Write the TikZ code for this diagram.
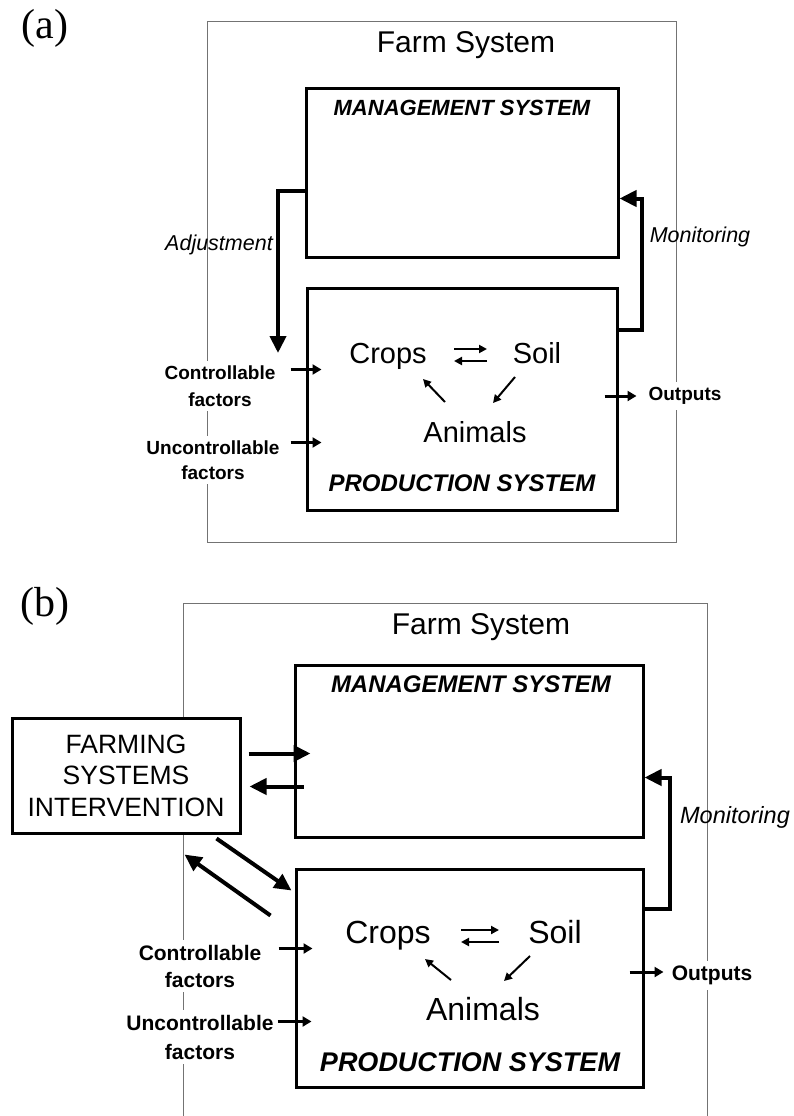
\documentclass[tikz,border=0pt]{standalone}
\usepackage{fontspec}
\setmainfont{Liberation Sans}
\newfontfamily\panelfont{Liberation Serif}
\usetikzlibrary{arrows.meta,calc}
\begin{document}
\begin{tikzpicture}[x=1pt,y=-1pt,
  thinbox/.style={draw=black!55, line width=0.9pt},
  sysbox/.style={draw, line width=3pt, rectangle, inner sep=0pt},
  bigarrow/.style={line width=4pt, -{Triangle[length=17pt,width=16pt]}, line join=miter},
  smallarrow/.style={line width=3pt, -{Triangle[length=9pt,width=10pt]}},
  innerarrow/.style={line width=2pt, -{Triangle[length=8pt,width=8pt]}},
  paneltag/.style={font=\panelfont\fontsize{42}{44}\selectfont, inner sep=0pt},
  farmtitle/.style={font=\fontsize{30}{32}\selectfont, inner sep=0pt},
  systitleA/.style={font=\bfseries\itshape\fontsize{#1}{#1}\selectfont, inner sep=0pt},
  compA/.style={font=\fontsize{29}{29}\selectfont, inner sep=0pt, text height=21pt, text depth=6pt},
  compB/.style={font=\fontsize{32}{32}\selectfont, inner sep=0pt, text height=23pt, text depth=6.7pt},
  factor/.style={font=\bfseries\fontsize{#1}{#1}\selectfont, align=center, fill=white, inner sep=5pt},
  flowlbl/.style={font=\itshape\fontsize{#1}{#1}\selectfont, inner sep=0pt},
]
\useasboundingbox (0,0) rectangle (794,1116);

% ================= (a) =================
\node[paneltag] (tagA) at (45,28) {(a)};
\node[thinbox, minimum width=469pt, minimum height=521pt] (outerA) at (441.5,281.5) {};
\node[farmtitle] (farmA) at (466,45) {Farm System};

\node[sysbox, minimum width=312pt, minimum height=169pt] (mgmtA) at (462,172.5) {};
\node[systitleA=22] (mgmtAlbl) at (462,108) {MANAGEMENT SYSTEM};

\node[sysbox, minimum width=310pt, minimum height=222pt] (prodA) at (462,399) {};
\node[systitleA=24] (prodAlbl) at (462,483) {PRODUCTION SYSTEM};

\node[compA] (cropsA) at (388,355.5) {Crops};
\node[compA] (soilA) at (537,355.5) {Soil};
\node[compA] (animalsA) at (475,434.5) {Animals};

\draw[innerarrow] ([shift={(66pt,6.5pt)}]cropsA.center) -- ([shift={(-50pt,6.5pt)}]soilA.center);
\draw[innerarrow] ([shift={(-50pt,-5.5pt)}]soilA.center) -- ([shift={(66pt,-5.5pt)}]cropsA.center);
\draw[innerarrow] ([shift={(-30pt,32.5pt)}]animalsA.center) -- ([shift={(35pt,-23.5pt)}]cropsA.center);
\draw[innerarrow] ([shift={(-22pt,-21.5pt)}]soilA.center) -- ([shift={(18pt,31.5pt)}]animalsA.center);

\node[factor=19, font=\bfseries\fontsize{19}{27}\selectfont] (ctrlA) at (220,386) {Controllable\\factors};
\node[factor=19, font=\bfseries\fontsize{19}{25}\selectfont] (unctrlA) at (213,460) {Uncontrollable\\factors};
\node[factor=19] (outA) at (685,396) {Outputs};

\draw[smallarrow] ([shift={(-15pt,-83pt)}]prodA.north west) -- ++(31,0);
\draw[smallarrow] ([shift={(-15pt,-156pt)}]prodA.north west) -- ++(31,0);
\draw[smallarrow] ([shift={(-14pt,3pt)}]prodA.east) -- ++(32,0);

\coordinate (adjEnd) at (278,353);
\draw[bigarrow] ([yshift=-104pt]mgmtA.north west) -| (adjEnd);
\node[flowlbl=21.5] (adjA) at (219,245) {Adjustment};

\draw[bigarrow] ([yshift=-43pt]prodA.north east) -- ++(23,0) |- ([yshift=-112pt]mgmtA.north east);
\node[flowlbl=21.5] (monA) at (700,237) {Monitoring};

% ================= (b) =================
\node[paneltag] (tagB) at (45,606) {(b)};
\draw[thinbox] (183,1125) |- (707,603) -- (707,1125);
\node[farmtitle] (farmB) at (481,627) {Farm System};

\node[sysbox, minimum width=348pt, minimum height=172pt] (mgmtB) at (469,751) {};
\node[systitleA=24] (mgmtBlbl) at (471,684) {MANAGEMENT SYSTEM};

\node[sysbox, minimum width=347pt, minimum height=218pt] (prodB) at (469.5,978) {};
\node[systitleA=27] (prodBlbl) at (470,1062) {PRODUCTION SYSTEM};

\node[compB] (cropsB) at (388,935) {Crops};
\node[compB] (soilB) at (555,935) {Soil};
\node[compB] (animalsB) at (483,1012) {Animals};

\draw[innerarrow] ([shift={(73pt,5pt)}]cropsB.center) -- ([shift={(-56pt,5pt)}]soilB.center);
\draw[innerarrow] ([shift={(-56pt,-7pt)}]soilB.center) -- ([shift={(73pt,-7pt)}]cropsB.center);
\draw[innerarrow] ([shift={(-32pt,32pt)}]animalsB.center) -- ([shift={(37pt,-24pt)}]cropsB.center);
\draw[innerarrow] ([shift={(-25pt,-21pt)}]soilB.center) -- ([shift={(21pt,31pt)}]animalsB.center);

\node[fill=white, inner sep=0pt, draw, line width=3pt, minimum width=228pt, minimum height=115pt,
      align=center, font=\fontsize{26.5}{31.5}\selectfont] (fsi) at (126,775.5) {FARMING\\SYSTEMS\\INTERVENTION};

\node[factor=21, font=\bfseries\fontsize{21}{27}\selectfont] (ctrlB) at (200,966) {Controllable\\factors};
\node[factor=21, font=\bfseries\fontsize{21}{29}\selectfont] (unctrlB) at (200,1037) {Uncontrollable\\factors};
\node[factor=21] (outB) at (712,975) {Outputs};

\draw[smallarrow] ([shift={(-16pt,-81pt)}]prodB.north west) -- ++(34,0);
\draw[smallarrow] ([shift={(-17pt,-154pt)}]prodB.north west) -- ++(34,0);
\draw[smallarrow] ([shift={(-15pt,6pt)}]prodB.east) -- ++(34,0);

\draw[bigarrow] ([shift={(7pt,-37pt)}]fsi.north east) -- ([shift={(17pt,-90pt)}]mgmtB.north west);
\draw[bigarrow] ([shift={(10pt,-123pt)}]mgmtB.north west) -- ([shift={(8pt,-70pt)}]fsi.north east);
\draw[bigarrow] ([shift={(-25pt,-4pt)}]fsi.south east) -- ([shift={(-3pt,-23pt)}]prodB.north west);
\draw[bigarrow] ([shift={(-24pt,-48pt)}]prodB.north west) -- ([shift={(-57pt,-20pt)}]fsi.south east);

\draw[bigarrow] ([yshift=-41pt]prodB.north east) -- ++(25,0) |- ([yshift=-114pt]mgmtB.north east);
\node[flowlbl=23.5] (monB) at (735,817) {Monitoring};

\end{tikzpicture}
\end{document}
